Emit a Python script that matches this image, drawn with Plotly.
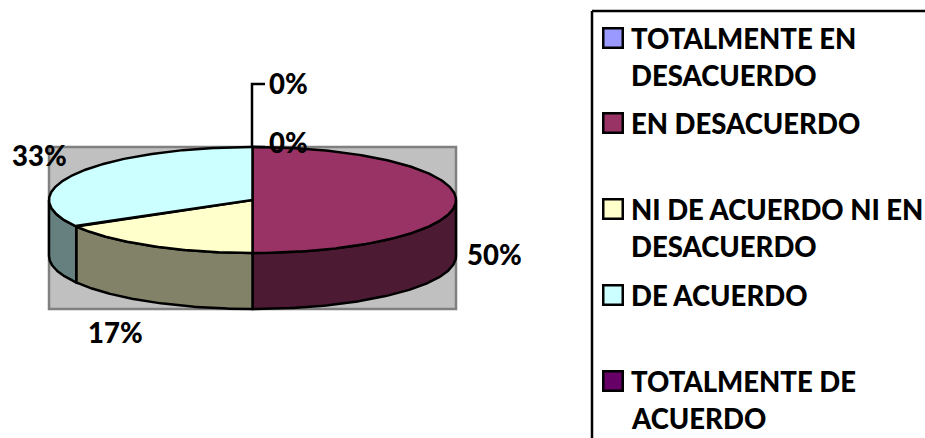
import numpy as np
import plotly.graph_objects as go

categories = ["TOTALMENTE EN<br>DESACUERDO", "EN DESACUERDO", "NI DE ACUERDO NI EN<br>DESACUERDO", "DE ACUERDO", "TOTALMENTE DE<br>ACUERDO"]
values = [0, 50, 16.67, 33.33, 0]
top_colors = ["#9999FF", "#993366", "#FFFFCC", "#CCFFFF", "#660066"]
side_colors = ["#4D4D80", "#4D1A33", "#828269", "#668080", "#330033"]
label_pos = [(288.5, 142), (494.5, 254), (115.5, 332), (39, 155), (288.5, 83)]
legend_y = [38, 123, 209, 295, 381]

FONT = "Lato"
CX, CY, RX, RY, DEPTH = 252.5, 200, 203.5, 53, 56
LINE = dict(color="#000000", width=2.5)


def pt(t, dy=0):
    r = np.radians(t)
    return CX + RX * np.sin(r), CY - RY * np.cos(r) + dy


fig = go.Figure()
bounds = np.cumsum([0] + values) / sum(values) * 360

# sides
for i, c in enumerate(side_colors):
    a, b = max(bounds[i], 90), min(bounds[i + 1], 270)
    if b <= a:
        continue
    t = np.linspace(a, b, 120)
    x0, y0 = pt(t)
    x1, y1 = pt(t[::-1], DEPTH)
    fig.add_trace(go.Scatter(x=np.r_[x0, x1, x0[0]], y=np.r_[y0, y1, y0[0]], mode="lines",
                             fill="toself", fillcolor=c, line=LINE, hoverinfo="skip"))
# tops
for i, c in enumerate(top_colors):
    a, b = bounds[i], bounds[i + 1]
    if b <= a:
        continue
    t = np.linspace(a, b, 240)
    x, y = pt(t)
    fig.add_trace(go.Scatter(x=np.r_[CX, x, CX], y=np.r_[CY, y, CY], mode="lines",
                             fill="toself", fillcolor=c, line=LINE, hoverinfo="skip"))

# leader lines for the zero slices
fig.add_trace(go.Scatter(x=[252, 252, 265], y=[147, 84, 84], mode="lines", line=dict(color="#000000", width=2.5), hoverinfo="skip"))
fig.add_trace(go.Scatter(x=[252, 265], y=[147, 147], mode="lines", line=dict(color="#000000", width=2.5), hoverinfo="skip"))

# legend swatches
fig.add_trace(go.Scatter(x=[613] * 5, y=legend_y, mode="markers", hoverinfo="skip",
                         marker=dict(symbol="square", size=19.5, color=top_colors, line=dict(color="#000000", width=2.5))))

# percent labels
for v, (x, y) in zip(values, label_pos):
    fig.add_annotation(x=x, y=y, text=f"{round(v)}%", showarrow=False, xanchor="center", yanchor="middle",
                       font=dict(family=FONT, size=27.5, color="#000000", weight=900))
# legend labels
for name, y in zip(categories, legend_y):
    for j, line in enumerate(name.split("<br>")):
        fig.add_annotation(x=629, y=y + j * 37, text=line, showarrow=False, xanchor="left", yanchor="middle",
                           font=dict(family=FONT, size=27.5, color="#000000", weight=900))

fig.update_layout(
    width=925, height=438, margin=dict(l=0, r=0, t=0, b=0), showlegend=False,
    paper_bgcolor="#FFFFFF", plot_bgcolor="#FFFFFF",
    xaxis=dict(range=[0, 925], visible=False, fixedrange=True),
    yaxis=dict(range=[438, 0], visible=False, fixedrange=True),
    shapes=[
        dict(type="rect", x0=49, x1=456, y0=147, y1=309, fillcolor="#C0C0C0", line=dict(color="#808080", width=2.5), layer="below"),
        dict(type="line", x0=592, x1=925, y0=11, y1=11, line=dict(color="#000000", width=2.5)),
        dict(type="line", x0=592, x1=592, y0=11, y1=438, line=dict(color="#000000", width=2.5)),
    ],
)
fig.write_html("out.html", config={"displayModeBar": False},
               post_script="document.body.style.margin='0';document.body.style.overflow='hidden';")
